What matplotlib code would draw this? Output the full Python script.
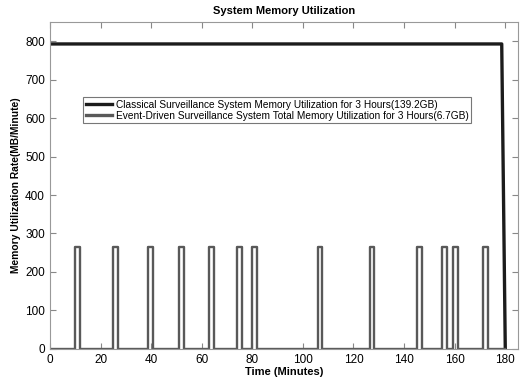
import matplotlib
matplotlib.use("Agg")
import matplotlib.pyplot as plt

plt.rcParams['font.family'] = ['Liberation Sans', 'DejaVu Sans']

# Classical system: constant rate, then drops at the end of 3 hours
classic_t = [0, 178.6, 180.0]
classic_v = [793, 793, 0]

# Event-driven system: short pulses when events happen
pulse_centers = [10.9, 25.8, 39.9, 51.9, 63.9, 74.8, 81.0,
                 106.8, 127.3, 146.2, 156.1, 160.4, 172.3]
pulse_height = 265
pulse_half = 0.95
event_end = 180

labels = ['Classical Surveillance System Memory Utilization for 3 Hours(139.2GB)',
          'Event-Driven Surveillance System Total Memory Utilization for 3 Hours(6.7GB)']

# build step trace of pulses
ev_t, ev_v = [0], [0]
for c in pulse_centers:
    ev_t += [c - pulse_half, c - pulse_half, c + pulse_half, c + pulse_half]
    ev_v += [0, pulse_height, pulse_height, 0]
ev_t.append(event_end)
ev_v.append(0)

fig = plt.figure(figsize=(5.2, 3.8), dpi=100)
ax = fig.add_axes([0.096, 0.082, 0.9, 0.86])

ax.plot(classic_t, classic_v, color='#1c1c1c', lw=2.4, label=labels[0])
ax.plot(ev_t, ev_v, color='#595959', lw=1.7, label=labels[1])

ax.set_xlim(0, 185)
ax.set_ylim(0, 850)
ax.set_xticks(range(0, 181, 20))
ax.set_yticks(range(0, 801, 100))
ax.tick_params(direction='in', top=True, right=True, labelsize=8.5,
               length=4, color='#888888')
for s in ax.spines.values():
    s.set_color('#999999')

ax.set_title('System Memory Utilization', fontsize=8, fontweight='bold', pad=6)
ax.set_xlabel('Time (Minutes)', fontsize=8, fontweight='bold', labelpad=1)
ax.set_ylabel('Memory Utilization Rate(MB/Minute)', fontsize=7.4, fontweight='bold', labelpad=3)

leg = ax.legend(loc='upper left', bbox_to_anchor=(0.06, 0.785), fontsize=7.3,
                fancybox=False, framealpha=1, edgecolor='#777777',
                handlelength=2.6, borderpad=0.25, labelspacing=0.1, handletextpad=0.4)
leg.get_frame().set_linewidth(0.8)
leg.get_lines()[1].set_linewidth(2.4)

fig.savefig('out.png', dpi=100)
